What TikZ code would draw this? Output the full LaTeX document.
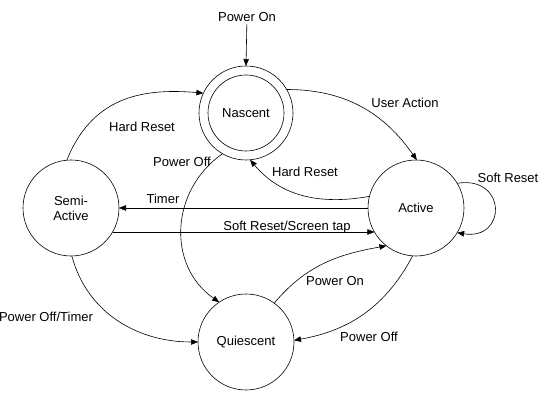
\documentclass[tikz,border=0pt]{standalone}
\usepackage{fontspec}
\setmainfont{Liberation Sans}
\usetikzlibrary{arrows.meta}
\begin{document}
\begin{tikzpicture}[x=1pt,y=1pt,
  every node/.style={font=\fontsize{13}{15}\selectfont},
  state/.style={circle,draw,line width=0.6pt,minimum size=96pt,inner sep=0pt,outer sep=0pt,align=center},
  lbl/.style={inner sep=2pt},
  edge/.style={line width=0.6pt,-{Triangle[length=7pt,width=5.5pt]}}]
\useasboundingbox (0,0) rectangle (542,402);
% states
\node[state,minimum size=94pt] (N) at (246,289) {Nascent};
\node[circle,draw,line width=0.6pt,minimum size=76pt,inner sep=0pt] (Ni) at (246,289) {};
\node[state] (S) at (71,194) {Semi-\\Active};
\node[state] (A) at (416,194) {Active};
\node[state] (Q) at (246,60) {Quiescent};
% labels
\node[lbl] (pon) at (247,385) {Power On};
\node[lbl] (l1) at (142,275) {Hard Reset};
\node[lbl] (l2) at (405,299) {User Action};
\node[lbl] (l3) at (182,240) {Power Off};
\node[lbl] (l4) at (305,230) {Hard Reset};
\node[lbl] (l5) at (508,224) {Soft Reset};
\node[lbl] (l6) at (163,203) {Timer};
\node[lbl] (l7) at (287,175) {Soft Reset/Screen tap};
\node[lbl] (l8) at (46,85) {Power Off/Timer};
\node[lbl] (l9) at (335,121) {Power On};
\node[lbl] (l10) at (369,65) {Power Off};
% connectors
\draw[edge] (pon) -- (N.north);
\draw[edge] (S.95) to[out=68,in=175,looseness=1.1] (N.155);
\draw[edge] (N.30) to[out=0,in=125] (A.89);
\draw[edge] (A.166) to[out=190,in=-50] (N.-85);
\draw[edge] (A.31) .. controls +(50,8) and +(50,-8) .. (A.-31);
\draw[edge] (A.west) -- (S.east);
\draw[edge] (S.-30) -- (A.-150);
\draw[edge] (N.-120) to[out=215,in=145,looseness=1.1] (Q.124);
\draw[edge] (S.-89) to[out=-75,in=180] (Q.west);
\draw[edge] (Q.54) to[out=50,in=190] (A.-128);
\draw[edge] (A.-94) to[out=-118,in=10] (Q.2);
\end{tikzpicture}
\end{document}
